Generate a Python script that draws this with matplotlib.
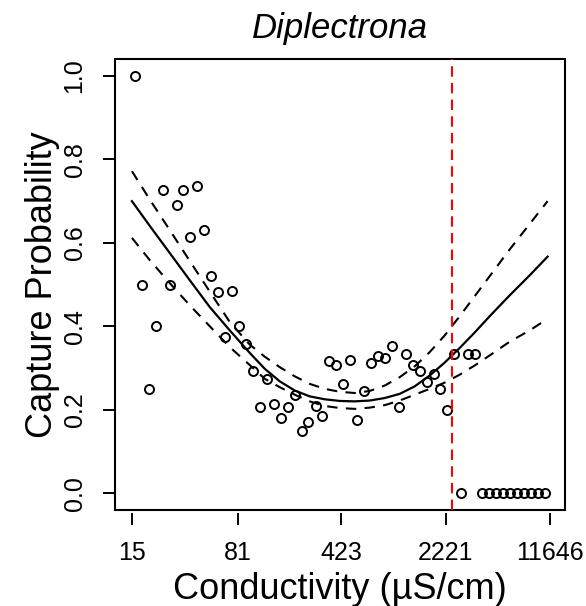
import matplotlib
matplotlib.use("Agg")
import matplotlib.pyplot as plt
from matplotlib.patches import Rectangle


# =========================
# Données
# =========================

# Conductivité (µS/cm) des points observés
cond = [15.7, 17.6, 19.6, 21.9, 24.5, 27.4, 30.6, 34.1, 38.1, 42.6,
        47.6, 53.2, 59.4, 66.3, 74.1, 82.7, 92.4, 103, 115, 129,
        144, 161, 180, 201, 224, 250, 280, 312, 349, 390,
        435, 486, 543, 607, 677, 757, 845, 944, 1055, 1178,
        1316, 1470, 1642, 1834, 2049, 2289, 2557, 2856, 3190, 3563,
        3980, 4446, 4967, 5548, 6197, 6922, 7733, 8638, 9649, 10778]

# Probabilité de capture observée
prob = [1.0, 0.50, 0.25, 0.40, 0.727, 0.50, 0.69, 0.727, 0.615, 0.737,
        0.63, 0.52, 0.482, 0.375, 0.485, 0.40, 0.357, 0.294, 0.206, 0.274,
        0.214, 0.18, 0.206, 0.236, 0.15, 0.17, 0.21, 0.186, 0.316, 0.307,
        0.262, 0.318, 0.176, 0.245, 0.312, 0.328, 0.325, 0.352, 0.206, 0.333,
        0.307, 0.294, 0.266, 0.286, 0.249, 0.20, 0.333, 0.0, 0.333, 0.333,
        0.0, 0.0, 0.0, 0.0, 0.0, 0.0, 0.0, 0.0, 0.0, 0.0]

# Courbe ajustée et intervalle de confiance
curve_cond = [15, 20.0, 27.5, 37.8, 51.9, 71.4, 98.2, 124.7, 158.3, 201, 255,
              324, 412, 523, 664, 843, 1070, 1359, 1725, 2191, 2783,
              3533, 4485, 6167, 8481, 11300]
fit = [0.700, 0.640, 0.575, 0.510, 0.446, 0.390, 0.336, 0.298, 0.268, 0.246, 0.232,
       0.225, 0.221, 0.220, 0.222, 0.228, 0.238, 0.256, 0.282, 0.313, 0.348,
       0.385, 0.424, 0.474, 0.522, 0.567]
upper = [0.772, 0.703, 0.630, 0.556, 0.483, 0.410, 0.356, 0.327, 0.302, 0.280, 0.262,
         0.250, 0.243, 0.240, 0.245, 0.258, 0.278, 0.304, 0.338, 0.378, 0.424,
         0.472, 0.520, 0.584, 0.645, 0.700]
lower = [0.612, 0.558, 0.503, 0.450, 0.400, 0.350, 0.307, 0.274, 0.254, 0.236, 0.220,
         0.209, 0.204, 0.202, 0.205, 0.211, 0.222, 0.236, 0.250, 0.265, 0.284,
         0.306, 0.330, 0.363, 0.390, 0.418]

# Seuil (ligne rouge)
threshold = 2470

x_ticks = [15, 81, 423, 2221, 11646]
y_ticks = [0.0, 0.2, 0.4, 0.6, 0.8, 1.0]

plt.rcParams["font.family"] = ["Liberation Sans", "DejaVu Sans"]


def main():
    fig = plt.figure(figsize=(5.86, 6.06), dpi=100)
    ax = fig.add_axes([0.1962, 0.1587, 0.7679, 0.7434])

    # points observés
    ax.plot(cond, prob, linestyle="none", marker="o", markersize=6.5,
            markerfacecolor="none", markeredgecolor="black", markeredgewidth=1.4)

    # courbe + IC
    ax.plot(curve_cond, fit, color="black", linewidth=1.6)
    ax.plot(curve_cond, upper, color="black", linewidth=1.5, dashes=(5, 4))
    ax.plot(curve_cond, lower, color="black", linewidth=1.5, dashes=(5, 4))

    ax.axvline(threshold, color="red", linewidth=1.5, dashes=(5, 3))

    ax.set_xscale("log")
    ax.set_xlim(11.45, 14900)
    ax.set_ylim(-0.04, 1.04)

    ax.set_xticks(x_ticks)
    ax.set_xticklabels([str(t) for t in x_ticks])
    ax.xaxis.set_minor_locator(plt.NullLocator())
    ax.set_yticks(y_ticks)
    ax.set_yticklabels([f"{t:.1f}" for t in y_ticks], rotation=90, va="center")

    # axe x décalé sous le cadre, comme dans R
    for side in ["left", "right", "top"]:
        ax.spines[side].set_visible(False)
    ax.spines["bottom"].set_position(("outward", 2))
    ax.spines["bottom"].set_color("none")
    ax.add_patch(Rectangle((0, 0), 1, 1, transform=ax.transAxes, fill=False,
                           edgecolor="black", linewidth=1.5, clip_on=False))

    ax.tick_params(axis="both", direction="out", length=8.5, width=1.4,
                   labelsize=18, pad=12)

    ax.set_title("Diplectrona", fontsize=25, style="italic", pad=15)
    ax.set_xlabel("Conductivity (µS/cm)", fontsize=26, labelpad=5)
    ax.set_ylabel("Capture Probability", fontsize=26, labelpad=2)

    fig.savefig("out.png", dpi=100)
    plt.close(fig)


if __name__ == "__main__":
    main()
